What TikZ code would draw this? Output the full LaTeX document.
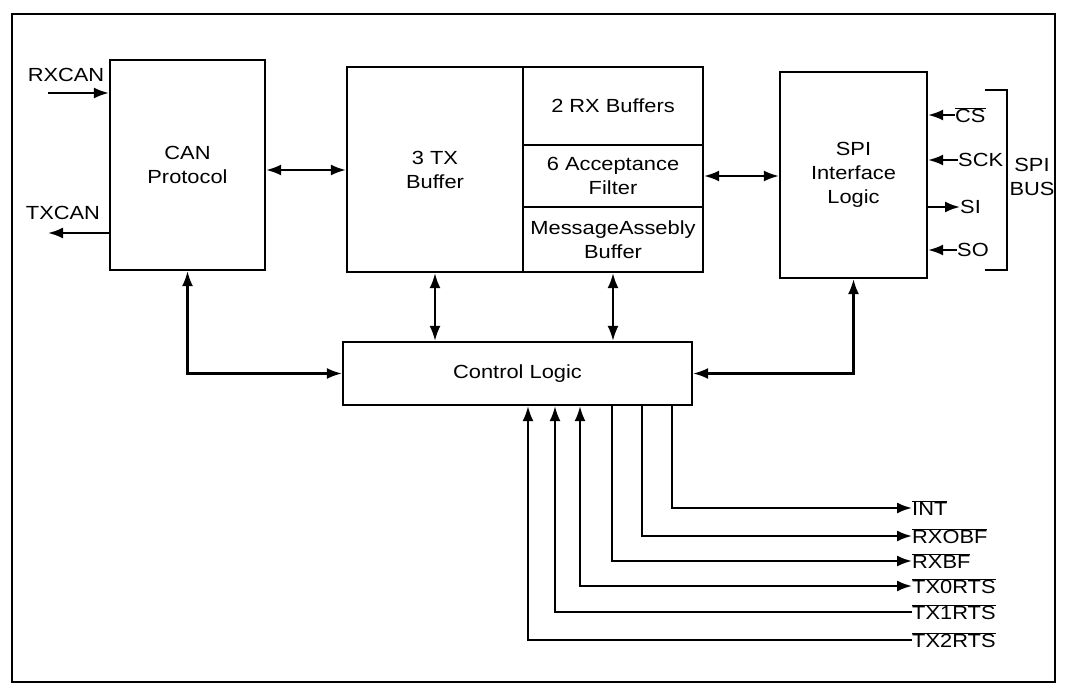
\documentclass[tikz,border=0pt]{standalone}
\usepackage{fontspec}
\setmainfont[FakeStretch=1.15]{Liberation Sans}
\usetikzlibrary{arrows.meta}
\newcommand{\ovl}[1]{\(\overline{\mbox{#1}}\)}
\begin{document}
\begin{tikzpicture}[x=1pt,y=-1pt,
  every node/.style={font=\fontsize{19}{24}\selectfont},
  blk/.style={draw,line width=2.2pt,inner sep=0pt,align=center},
  wire/.style={line width=2.2pt},
  tip/.style={-{Latex[length=15pt,width=11pt]}},
  both/.style={{Latex[length=15pt,width=11pt]}-{Latex[length=15pt,width=11pt]}},
  lbl/.style={anchor=west,inner sep=0pt}]
\useasboundingbox (0,0) rectangle (1065,690);
\draw[line width=2.2pt] (12,14) rectangle (1055,682);

% blocks
\node[blk,minimum width=155,minimum height=210] (can) at (187.5,165) {CAN\\Protocol};
\node[blk,minimum width=176,minimum height=205] (txb) at (435,169.5) {3 TX\\Buffer};
\node[blk,minimum width=180,minimum height=78] (rxb) at (613,106) {2 RX Buffers};
\node[blk,minimum width=180,minimum height=62] (acc) at (613,176) {6 Acceptance\\Filter};
\node[blk,minimum width=180,minimum height=65] (mab) at (613,239.5) {MessageAssebly\\Buffer};
\node[blk,minimum width=147,minimum height=206] (spi) at (853.5,175) {SPI\\Interface\\Logic};
\node[blk,minimum width=349,minimum height=63] (ctl) at (517.5,373.5) {Control Logic};

% CAN side
\node (rxl) at (66,75) {RXCAN};
\node (txl) at (63,213) {TXCAN};
\coordinate (rxin) at (48,93);
\coordinate (txout) at (48,233);
\draw[wire,tip] (rxin) -- (rxin -| can.west);
\draw[wire,tip] (txout -| can.west) -- (txout);

% block interconnects
\draw[wire,both] (can.east |- 0,170) -- (txb.west |- 0,170);
\draw[wire,both] (acc.east) -- (acc.east -| spi.west);
\draw[wire,both] (txb.south) -- (txb.south |- ctl.north);
\draw[wire,both] (mab.south) -- (mab.south |- ctl.north);
\draw[wire,both] (can.south) |- (ctl.west);
\draw[wire,both] (spi.south) |- (ctl.east);

% SPI bus signals
\node[lbl] (cs) at (955,115) {\ovl{CS}};
\node[lbl] (sck) at (958,160) {SCK};
\node[lbl] (si) at (960,207) {SI};
\node[lbl] (so) at (957,250) {SO};
\draw[wire,tip] (cs.west) -- (cs.west -| spi.east);
\draw[wire,tip] (sck.west) -- (sck.west -| spi.east);
\draw[wire,tip] (si.west -| spi.east) -- (si.west);
\draw[wire,tip] (so.west) -- (so.west -| spi.east);
\coordinate (b1) at (985,90);
\coordinate (b2) at (1007,270);
\draw[wire] (b1) -- (b1 -| b2) -- (b2) -- (b2 -| b1);
\node[align=center] (bus) at (1032,177) {SPI\\BUS};

% control outputs / inputs
\node[lbl] (int) at (912,508) {\ovl{INT}};
\node[lbl] (rxobf) at (912,536) {\ovl{RXOBF}};
\node[lbl] (rxbf) at (912,561) {\ovl{RXBF}};
\node[lbl] (tx0) at (912,586) {\ovl{TX0RTS}};
\node[lbl] (tx1) at (912,612) {\ovl{TX1RTS}};
\node[lbl] (tx2) at (912,640) {\ovl{TX2RTS}};
\coordinate (x1) at (672,0);
\coordinate (x2) at (642,0);
\coordinate (x3) at (612,0);
\coordinate (x4) at (580,0);
\coordinate (x5) at (555,0);
\coordinate (x6) at (528,0);
\draw[wire,tip] (ctl.south -| x1) |- (int.west);
\draw[wire,tip] (ctl.south -| x2) |- (rxobf.west);
\draw[wire,tip] (ctl.south -| x3) |- (rxbf.west);
\draw[wire,both] (ctl.south -| x4) |- (tx0.west);
\draw[wire,tip] (tx1.west) -| (ctl.south -| x5);
\draw[wire,tip] (tx2.west) -| (ctl.south -| x6);
\end{tikzpicture}
\end{document}
